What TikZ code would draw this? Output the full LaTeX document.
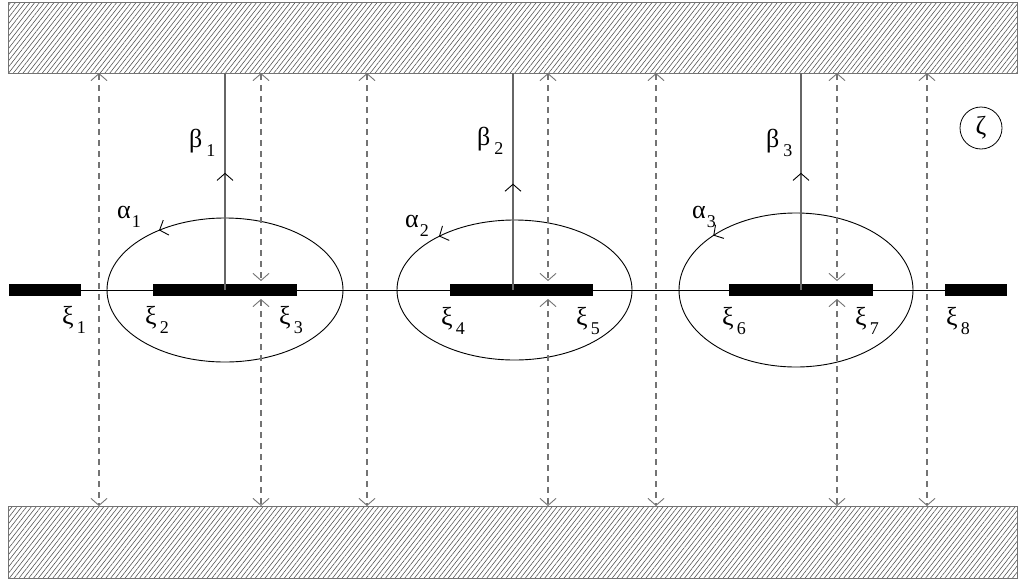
\documentclass[tikz,border=0pt]{standalone}
\usepackage{fontspec}
\setmainfont{Liberation Serif}
\usetikzlibrary{arrows.meta,patterns.meta,decorations.markings,calc}
\newcommand\lbl[3][3pt]{#2\kern#1\raisebox{-9pt}{\fontsize{18}{18}\selectfont #3}}
\tikzset{barb/.tip={Straight Barb[length=7pt,width=16pt,line width=0.9pt]}}
\begin{document}
\begin{tikzpicture}[x=1pt,y=-1pt,
  band/.style={draw=black!55, line width=1pt, pattern={Lines[angle=52,distance=3.8pt,line width=0.55pt]}, pattern color=black!70},
  cutbar/.style={fill=black, draw=none},
  axisline/.style={black, line width=0.8pt},
  ell/.style={black, line width=0.9pt},
  betaline/.style={black!60, line width=1.2pt},
  ident/.style={black!55, line width=1.3pt, dash pattern=on 6pt off 5pt, barb-barb},
  midtip/.style={postaction={decorate}, decoration={markings, mark=at position #1 with {\arrow[black]{barb}}}},
  endtip/.style={decorate, decoration={markings, mark=at position 1 with {\arrow[black]{barb}}}},
  lab/.style={anchor=base west, inner sep=0pt, font=\fontsize{26}{28}\selectfont},
]
\useasboundingbox (0,0) rectangle (1019,584);
% bands
\path[band] (8,2) rectangle (1017,73);
\path[band] (8,506) rectangle (1017,578);
% axis
\coordinate (axL) at (9,290);
\coordinate (axR) at (1007,290);
\draw[axisline] (axL) -- (axR);
% cuts
\fill[cutbar] (9,284) rectangle (81,296);
\fill[cutbar] (153,284) rectangle (297,296);
\fill[cutbar] (450,284) rectangle (593,296);
\fill[cutbar] (729,284) rectangle (873,296);
\fill[cutbar] (945,284) rectangle (1007,296);
% ellipses
\coordinate (e1) at (225,290);
\coordinate (e2) at (514.5,290);
\coordinate (e3) at (796,290);
\draw[ell] (e1) ellipse [x radius=118, y radius=72];
\draw[ell] (e2) ellipse [x radius=117.5, y radius=70];
\draw[ell] (e3) ellipse [x radius=117, y radius=77];
\path[endtip] ($(e1)+(-120:118 and 72)$) -- ($(e1)+(-124:118 and 72)$);
\path[endtip] ($(e2)+(-126:117.5 and 70)$) -- ($(e2)+(-130:117.5 and 70)$);
\path[endtip] ($(e3)+(-131:117 and 77)$) -- ($(e3)+(-135:117 and 77)$);
% beta lines
\coordinate (b1b) at (225,290); \coordinate (b1t) at (225,73);
\coordinate (b2b) at (513,290); \coordinate (b2t) at (513,73);
\coordinate (b3b) at (801,290); \coordinate (b3t) at (801,73);
\draw[betaline, midtip=0.54] (b1b) -- (b1t);
\draw[betaline, midtip=0.49] (b2b) -- (b2t);
\draw[betaline, midtip=0.54] (b3b) -- (b3t);
% identification lines (full)
\foreach \x/\n in {99/a,367/b,656/c,927/d}{
  \coordinate (t\n) at (\x,73); \coordinate (u\n) at (\x,506);
  \draw[ident] (t\n) -- (u\n);
}
% identification lines (through cuts)
\foreach \x/\n in {261/a,548/b,837/c}{
  \coordinate (ct\n) at (\x,73); \coordinate (ca\n) at (\x,281);
  \coordinate (cb\n) at (\x,299); \coordinate (cu\n) at (\x,506);
  \draw[ident] (ct\n) -- (ca\n);
  \draw[ident] (cb\n) -- (cu\n);
}
% labels
\node[lab] (xi1) at (62,324) {\lbl{ξ}{1}};
\node[lab] (xi2) at (145,324) {\lbl{ξ}{2}};
\node[lab] (xi3) at (279,324) {\lbl{ξ}{3}};
\node[lab] (xi4) at (441,325) {\lbl{ξ}{4}};
\node[lab] (xi5) at (576,325) {\lbl{ξ}{5}};
\node[lab] (xi6) at (722,325) {\lbl{ξ}{6}};
\node[lab] (xi7) at (855,325) {\lbl{ξ}{7}};
\node[lab] (xi8) at (946,325) {\lbl{ξ}{8}};
\node[lab] (al1) at (117,218) {\lbl[1pt]{α}{1}};
\node[lab] (al2) at (405,227) {\lbl[1pt]{α}{2}};
\node[lab] (al3) at (692,218) {\lbl[1pt]{α}{3}};
\node[lab] (be1) at (189,147) {\lbl[4pt]{β}{1}};
\node[lab] (be2) at (477,145) {\lbl[4pt]{β}{2}};
\node[lab] (be3) at (766,147) {\lbl[4pt]{β}{3}};
\node[circle, draw, line width=0.8pt, minimum size=42pt, inner sep=0pt, font=\fontsize{26}{28}\selectfont] (zeta) at (981,128) {ζ};
\end{tikzpicture}
\end{document}
